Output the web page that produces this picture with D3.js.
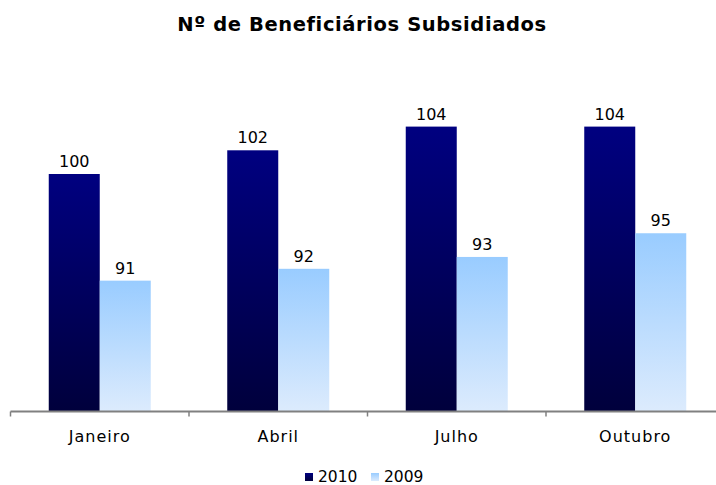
<!DOCTYPE html>
<html>
<head>
<meta charset="utf-8">
<script src="https://cdn.jsdelivr.net/npm/d3@7"></script>
<style>
  body { margin: 0; background: #fff; }
  text { font-family: Verdana, "DejaVu Sans", sans-serif; }
</style>
</head>
<body>
<div id="chart"></div>
<script>
// data
const months = ["Janeiro", "Abril", "Julho", "Outubro"]
const series = ["2010", "2009"]
const values2010 = [100, 102, 104, 104]
const values2009 = [91, 92, 93, 95]

const width = 716
const height = 485
const baseline = 411

const svg = d3.select("#chart")
    .append("svg")
        .attr("width", width)
        .attr("height", height)

// gradients
const defs = svg.append("defs")
const grads = [
    {id: "g2010", top: "#000080", bottom: "#00003c"},
    {id: "g2009", top: "#99ccff", bottom: "#dcebfd"}
]
grads.forEach(g => {
    const lg = defs.append("linearGradient")
        .attr("id", g.id)
        .attr("x1", 0).attr("y1", 0)
        .attr("x2", 0).attr("y2", 1)
    lg.append("stop").attr("offset", "0%").attr("stop-color", g.top)
    lg.append("stop").attr("offset", "100%").attr("stop-color", g.bottom)
})

// title
svg.append("text")
    .attr("x", 362)
    .attr("y", 31)
    .attr("text-anchor", "middle")
    .attr("font-weight", "bold")
    .attr("font-size", "19.5px")
    .attr("letter-spacing", "0.6px")
    .attr("fill", "#000")
    .text("Nº de Beneficiários Subsidiados")

// scales
const x = d3.scaleBand()
    .domain(months)
    .range([10.5, 10.5 + 178.5 * months.length])
    .paddingInner(0)
    .paddingOuter(0)

const barW = 51
const xs = d3.scaleBand()
    .domain(series)
    .range([0, barW * 2])

const y = d3.scaleLinear()
    .domain([80, 110])
    .range([baseline, baseline - 30 * 11.85])

const rows = months.map((m, i) => ({month: m, v2010: values2010[i], v2009: values2009[i]}))

const groups = svg.selectAll("g.month")
    .data(rows)
    .join("g")
        .attr("class", "month")
        .attr("transform", d => `translate(${x(d.month) + x.bandwidth() / 2 - barW}, 0)`)

series.forEach(s => {
    const key = "v" + s
    groups.append("rect")
        .attr("x", xs(s))
        .attr("y", d => y(d[key]))
        .attr("width", xs.bandwidth())
        .attr("height", d => baseline - y(d[key]))
        .attr("fill", `url(#g${s})`)

    groups.append("text")
        .attr("x", xs(s) + xs.bandwidth() / 2)
        .attr("y", d => y(d[key]) - 7)
        .attr("text-anchor", "middle")
        .attr("font-size", "16px")
        .attr("fill", "#000")
        .text(d => d[key])
})

// x axis
const axis = svg.append("g")
    .attr("transform", `translate(0, ${baseline + 0.5})`)

axis.append("line")
    .attr("x1", x.range()[0])
    .attr("x2", x.range()[1])
    .attr("stroke", "#808080")
    .attr("stroke-width", 2)

axis.selectAll("line.tick")
    .data(months)
    .join("line")
        .attr("class", "tick")
        .attr("x1", d => x(d))
        .attr("x2", d => x(d))
        .attr("y1", 0)
        .attr("y2", 5)
        .attr("stroke", "#808080")
        .attr("stroke-width", 1.5)

axis.selectAll("text")
    .data(months)
    .join("text")
        .attr("x", d => x(d) + x.bandwidth() / 2)
        .attr("y", 30.5)
        .attr("text-anchor", "middle")
        .attr("font-size", "16px")
        .attr("letter-spacing", "1px")
        .attr("fill", "#000")
        .text(d => d)

// legend
const legendX = [305, 371]
const legend = svg.selectAll("g.legend")
    .data(series)
    .join("g")
        .attr("class", "legend")
        .attr("transform", (d, i) => `translate(${legendX[i]}, 473)`)

legend.append("rect")
    .attr("width", 8)
    .attr("height", 8)
    .attr("fill", d => `url(#g${d})`)

legend.append("text")
    .attr("x", 13)
    .attr("y", 9)
    .attr("font-size", "15.5px")
    .attr("fill", "#000")
    .text(d => d)
</script>
</body>
</html>
